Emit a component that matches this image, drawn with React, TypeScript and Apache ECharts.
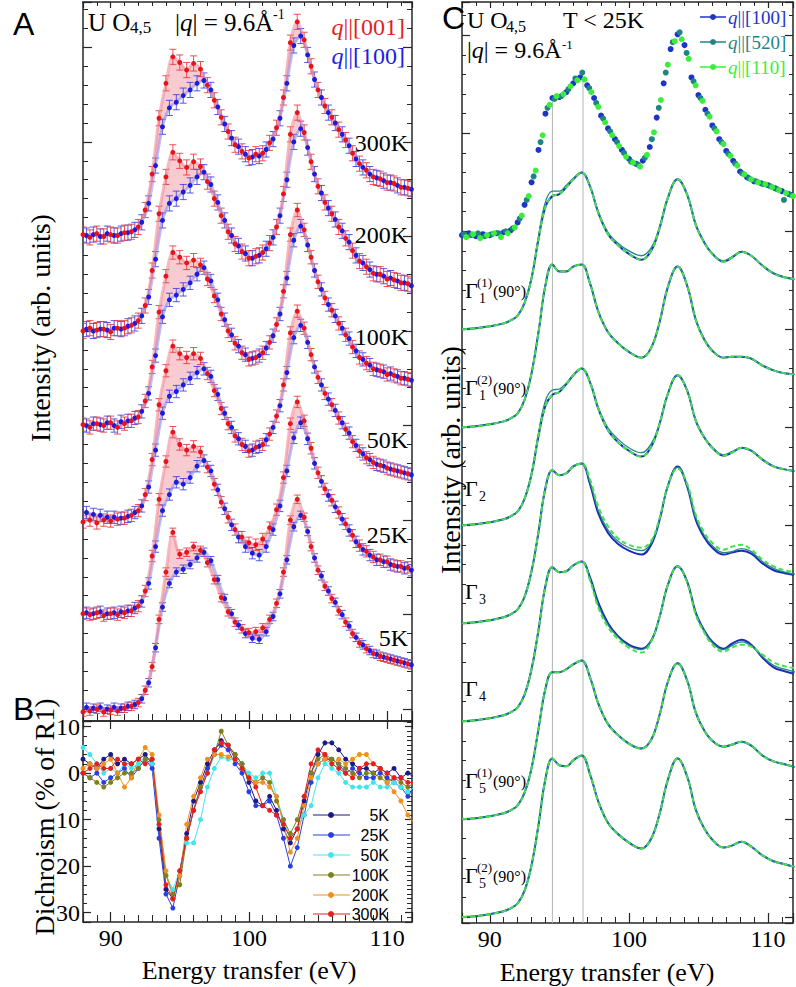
import React, { useEffect, useRef } from "react";
import * as echarts from "echarts";

const SERIF = '"Liberation Serif", "Times New Roman", serif';
const SANS = '"Liberation Sans", Arial, sans-serif';
const AX = "#262626";

// ---------------- Panel A : stacked spectra ----------------
const TEMPS_A = ["300K", "200K", "100K", "50K", "25K", "5K"];
const OFFSET_A = [5, 4, 3, 2, 1, 0];
const ERR_A = [0.08, 0.08, 0.07, 0.065, 0.06, 0.045];
const LABEL_Y_A = [143, 235, 337, 440, 535, 638];
const E_STEP = 0.5;
const E_RED_START = 88; // red points: 88.0, 88.5 ... 112.0 (49)
const E_BLUE_START = 88.25; // blue points: 88.25 ... 111.75 (48)

const red300 = [0.02, -0.01, 0.03, 0.0, 0.02, 0.01, 0.04, 0.05, 0.1, 0.28, 0.66, 1.25, 1.62, 1.9, 1.84, 1.76, 1.83, 1.77, 1.6, 1.44, 1.26, 1.11, 0.97, 0.9, 0.83, 0.87, 0.88, 0.99, 1.15, 1.47, 2.05, 2.27, 2.08, 1.8, 1.55, 1.38, 1.26, 1.13, 1.02, 0.88, 0.77, 0.7, 0.63, 0.61, 0.57, 0.56, 0.52, 0.51, 0.49];
const blue300 = [0.01, 0.02, 0.0, 0.03, 0.01, 0.03, 0.04, 0.07, 0.15, 0.35, 0.75, 1.16, 1.36, 1.42, 1.49, 1.55, 1.62, 1.65, 1.55, 1.37, 1.19, 1.04, 0.95, 0.87, 0.84, 0.85, 0.92, 1.03, 1.25, 1.62, 2.02, 2.12, 1.92, 1.66, 1.47, 1.31, 1.2, 1.08, 0.96, 0.82, 0.73, 0.66, 0.62, 0.59, 0.57, 0.54, 0.52, 0.5];
const red200 = [0.0, 0.03, 0.01, 0.02, -0.01, 0.03, 0.03, 0.06, 0.11, 0.27, 0.64, 1.24, 1.63, 1.89, 1.8, 1.73, 1.79, 1.74, 1.58, 1.4, 1.22, 1.05, 0.92, 0.84, 0.77, 0.79, 0.83, 0.93, 1.1, 1.45, 2.08, 2.31, 2.1, 1.79, 1.53, 1.36, 1.24, 1.1, 0.98, 0.85, 0.74, 0.68, 0.61, 0.6, 0.55, 0.54, 0.51, 0.5, 0.47];
const blue200 = [0.02, 0.0, 0.02, 0.01, 0.03, 0.02, 0.05, 0.08, 0.16, 0.36, 0.76, 1.17, 1.35, 1.4, 1.47, 1.54, 1.63, 1.68, 1.55, 1.36, 1.17, 1.01, 0.9, 0.82, 0.77, 0.8, 0.87, 0.99, 1.22, 1.6, 2.0, 2.14, 1.94, 1.66, 1.46, 1.3, 1.18, 1.06, 0.94, 0.8, 0.72, 0.65, 0.6, 0.58, 0.56, 0.53, 0.51, 0.48];
const red100 = [0.01, -0.02, 0.02, 0.0, 0.03, -0.02, 0.02, 0.05, 0.09, 0.26, 0.62, 1.2, 1.58, 1.83, 1.78, 1.72, 1.75, 1.7, 1.55, 1.37, 1.18, 1.0, 0.87, 0.77, 0.7, 0.72, 0.77, 0.88, 1.07, 1.42, 2.02, 2.28, 2.07, 1.78, 1.52, 1.35, 1.22, 1.08, 0.96, 0.83, 0.72, 0.66, 0.6, 0.58, 0.54, 0.53, 0.5, 0.49, 0.47];
const blue100 = [0.0, 0.02, 0.01, 0.03, 0.0, 0.04, 0.05, 0.08, 0.15, 0.34, 0.74, 1.15, 1.33, 1.38, 1.44, 1.51, 1.6, 1.67, 1.53, 1.33, 1.12, 0.96, 0.84, 0.75, 0.71, 0.74, 0.82, 0.95, 1.18, 1.56, 1.96, 2.11, 1.91, 1.64, 1.44, 1.28, 1.16, 1.03, 0.92, 0.79, 0.7, 0.64, 0.59, 0.57, 0.55, 0.52, 0.5, 0.48];
const red50 = [-0.02, 0.0, -0.03, 0.0, -0.01, 0.01, 0.02, 0.05, 0.1, 0.27, 0.64, 1.22, 1.58, 1.84, 1.76, 1.72, 1.76, 1.71, 1.55, 1.37, 1.18, 1.02, 0.89, 0.8, 0.73, 0.77, 0.8, 0.91, 1.1, 1.43, 1.98, 2.21, 2.03, 1.75, 1.51, 1.34, 1.22, 1.08, 0.96, 0.83, 0.73, 0.66, 0.61, 0.58, 0.55, 0.53, 0.51, 0.49, 0.47];
const blue50 = [0.08, 0.06, 0.05, 0.03, 0.03, 0.02, 0.04, 0.08, 0.15, 0.35, 0.74, 1.13, 1.31, 1.36, 1.43, 1.5, 1.56, 1.6, 1.52, 1.33, 1.13, 0.98, 0.86, 0.78, 0.74, 0.78, 0.85, 0.98, 1.21, 1.56, 1.93, 2.06, 1.88, 1.62, 1.43, 1.28, 1.16, 1.03, 0.92, 0.79, 0.7, 0.64, 0.59, 0.57, 0.54, 0.52, 0.5, 0.48];
const red25 = [0.01, 0.0, 0.02, -0.01, 0.01, 0.0, 0.02, 0.04, 0.09, 0.25, 0.62, 1.22, 1.62, 1.93, 1.8, 1.74, 1.78, 1.72, 1.56, 1.38, 1.19, 1.03, 0.9, 0.82, 0.76, 0.74, 0.8, 0.92, 1.11, 1.45, 2.02, 2.25, 2.05, 1.76, 1.5, 1.33, 1.21, 1.08, 0.96, 0.84, 0.73, 0.67, 0.61, 0.58, 0.56, 0.52, 0.51, 0.5, 0.48];
const blue25 = [0.02, 0.01, 0.03, 0.01, 0.02, 0.03, 0.04, 0.07, 0.14, 0.33, 0.72, 1.1, 1.27, 1.4, 1.38, 1.45, 1.57, 1.63, 1.52, 1.32, 1.12, 0.95, 0.82, 0.72, 0.65, 0.63, 0.72, 0.9, 1.15, 1.52, 1.87, 2.03, 1.86, 1.6, 1.41, 1.26, 1.14, 1.01, 0.89, 0.77, 0.69, 0.63, 0.58, 0.56, 0.53, 0.51, 0.49, 0.47];
const red5 = [-0.03, -0.02, 0.0, -0.03, -0.01, -0.02, 0.01, 0.03, 0.07, 0.2, 0.45, 0.95, 1.45, 1.87, 1.64, 1.66, 1.72, 1.68, 1.55, 1.37, 1.18, 1.03, 0.92, 0.85, 0.81, 0.82, 0.86, 0.95, 1.12, 1.45, 2.0, 2.22, 2.03, 1.72, 1.47, 1.3, 1.17, 1.04, 0.92, 0.8, 0.7, 0.64, 0.59, 0.56, 0.54, 0.52, 0.5, 0.48, 0.46];
const blue5 = [0.02, 0.01, 0.02, 0.0, 0.02, 0.01, 0.03, 0.05, 0.11, 0.28, 0.65, 1.08, 1.33, 1.45, 1.48, 1.53, 1.6, 1.66, 1.57, 1.37, 1.17, 1.01, 0.89, 0.8, 0.75, 0.74, 0.82, 0.98, 1.22, 1.58, 1.93, 2.05, 1.88, 1.6, 1.41, 1.25, 1.13, 1.0, 0.88, 0.76, 0.68, 0.62, 0.58, 0.55, 0.53, 0.51, 0.49, 0.47];
const RED_A = [red300, red200, red100, red50, red25, red5];
const BLUE_A = [blue300, blue200, blue100, blue50, blue25, blue5];

// ---------------- Panel B : dichroism (%) ----------------
const TEMPS_B = ["5K", "25K", "50K", "100K", "200K", "300K"];
const COLORS_B = ["#1b1a86", "#2a3fe0", "#44e4ec", "#7f7f1e", "#f0901e", "#e81e1e"];
const d5 = [3, 2, 1, 3, 4, 2, 3, 2, 3, 4, 2, -12, -25, -27, -21, -13, -6, -2, 2, 5, 7, 6, 4, 2, -2, -6, -7, -5, -8, -12, -15, -12, -6, 0, 4, 6.5, 6.5, 5, 3, 2, 1, 1, 0, 1, 0, 1, -1, 0, -1];
const d25 = [0, -1, 0, -2, -1, 0, 1, -1, 1, 3, 1, -14, -26, -29, -22, -14, -8, -3, 1, 4, 6, 5, 2, 0, -4, -7, -7, -6, -9, -14, -20, -16, -9, -2, 2, 3, 3, 2, 0, 1, 0, -1, -1, 0, -1, -2, -3, -5, -3];
const d50 = [5.5, 4, 2, 0, 1, 0, 2, 1, 2, 3, 2, -11, -22, -25, -21, -15, -15, -10, -3, 1, 3.5, 3, 3, 2, 0, -1, 0, 0, -5, -10, -14, -12, -9, -7, -1, 2, 1, 0, -2, -3, -3, -3, -2, -3, -3, -2, -3, -4, -3];
const d100 = [0, -1, -2, -3, -2, -1, 0, 0, 1, 3, 3, -10, -22, -26, -24, -14, -8, -3, 0, 4, 9, 6, 4, 2, -1, -2, -1, -2, -6, -10, -13, -10, -5, 0, 3, 4, 3, 2, 1, 0, -1, 0, 0, -1, -2, -1, -2, -3, -2];
const d200 = [1, 2, 1, 2, 3, 0, -3, -1, 3, 5.5, 4, -9, -21, -27, -22, -11, -5, -1, 3, 4, 4, 3.5, 3, 1, -1, -2, -2, -3, -5, -11, -17, -14, -7, -1, 2, 3, 2, 3, 2, 3, 4, 4, 2, 1, -2, -4, -6, -9, -11];
const d300 = [0, 1, 2, 1, 1, 3, 2, 2, 3, 2, 3, -11, -24, -27, -21, -14, -8, -4, 0, 5, 6.5, 6, 3, 1, -1, -3, -7, -8, -9, -11, -14, -12, -5, 2, 5, 4, 2, 1, 0, -1, 1, 2, 2, 1, 0, -1, -1, -2, -2];
const DICHRO = [d5, d25, d50, d100, d200, d300];

// ---------------- Panel C : data + calculations ----------------
const C_DATA_OFFSET = 6.96;
const E_C100_START = 88.0; // 49 points
const E_C520_START = 88.15; // 48 points
const E_C110_START = 88.3; // 48 points
const dataC100 = [0.0, 0.02, -0.01, 0.01, 0.0, 0.02, 0.03, 0.05, 0.13, 0.31, 0.54, 0.87, 1.24, 1.4, 1.41, 1.46, 1.55, 1.61, 1.53, 1.4, 1.22, 1.09, 0.98, 0.87, 0.78, 0.73, 0.76, 0.9, 1.2, 1.55, 1.9, 2.05, 1.94, 1.61, 1.43, 1.28, 1.12, 0.98, 0.86, 0.76, 0.65, 0.59, 0.55, 0.53, 0.51, 0.48, 0.45, 0.42, 0.39];
const dataC520 = [0.01, 0.0, 0.02, -0.01, 0.01, 0.02, 0.04, 0.07, 0.17, 0.36, 0.6, 0.95, 1.3, 1.39, 1.42, 1.49, 1.6, 1.66, 1.5, 1.35, 1.19, 1.06, 0.95, 0.84, 0.75, 0.72, 0.79, 0.98, 1.3, 1.66, 1.97, 2.07, 1.86, 1.57, 1.4, 1.24, 1.09, 0.95, 0.83, 0.73, 0.63, 0.58, 0.55, 0.52, 0.5, 0.47, 0.36, 0.41];
const dataC110 = [-0.02, 0.01, -0.03, 0.0, 0.02, -0.02, 0.02, 0.08, 0.2, 0.4, 0.66, 1.02, 1.33, 1.42, 1.44, 1.52, 1.58, 1.59, 1.46, 1.31, 1.15, 1.02, 0.91, 0.8, 0.74, 0.7, 0.82, 1.05, 1.38, 1.74, 1.98, 2.0, 1.8, 1.53, 1.37, 1.21, 1.06, 0.93, 0.81, 0.71, 0.62, 0.57, 0.54, 0.52, 0.49, 0.46, 0.43, 0.4];

const E_MODEL = [88, 89, 90, 91, 91.5, 92, 92.5, 93, 93.5, 94, 94.5, 95, 95.5, 96, 96.6, 97.2, 97.8, 98.5, 99.2, 100, 100.9, 101.6, 102.2, 102.8, 103.5, 104.2, 104.8, 105.4, 106, 106.8, 107.4, 108.1, 108.8, 109.6, 110.4, 111.2, 112];
const g11 = [0, 0.01, 0.03, 0.06, 0.09, 0.14, 0.27, 0.52, 0.92, 1.25, 1.36, 1.38, 1.45, 1.53, 1.6, 1.46, 1.19, 0.97, 0.86, 0.77, 0.71, 0.8, 1.03, 1.34, 1.53, 1.37, 1.07, 0.89, 0.77, 0.69, 0.73, 0.79, 0.75, 0.65, 0.57, 0.53, 0.51];
const g11Teal = [0, 0.01, 0.03, 0.06, 0.09, 0.14, 0.27, 0.53, 0.95, 1.3, 1.41, 1.41, 1.47, 1.54, 1.6, 1.46, 1.2, 0.99, 0.88, 0.8, 0.75, 0.83, 1.04, 1.34, 1.53, 1.37, 1.07, 0.89, 0.77, 0.7, 0.74, 0.79, 0.75, 0.65, 0.57, 0.53, 0.51];
const g12 = [0, 0.01, 0.03, 0.06, 0.09, 0.14, 0.28, 0.55, 0.97, 1.45, 1.66, 1.59, 1.59, 1.64, 1.66, 1.47, 1.18, 0.97, 0.86, 0.77, 0.71, 0.81, 1.07, 1.43, 1.64, 1.44, 1.1, 0.9, 0.78, 0.71, 0.72, 0.72, 0.7, 0.63, 0.58, 0.55, 0.54];
const g2 = [0, 0.01, 0.03, 0.06, 0.09, 0.14, 0.27, 0.52, 0.91, 1.22, 1.33, 1.36, 1.44, 1.53, 1.6, 1.46, 1.19, 0.97, 0.85, 0.76, 0.7, 0.8, 1.03, 1.34, 1.53, 1.37, 1.07, 0.9, 0.79, 0.71, 0.74, 0.79, 0.76, 0.67, 0.6, 0.57, 0.55];
const g2Teal = [0, 0.01, 0.03, 0.06, 0.09, 0.14, 0.27, 0.53, 0.94, 1.27, 1.38, 1.39, 1.45, 1.53, 1.6, 1.46, 1.2, 0.99, 0.88, 0.79, 0.74, 0.83, 1.04, 1.34, 1.53, 1.37, 1.07, 0.9, 0.79, 0.72, 0.75, 0.79, 0.76, 0.67, 0.6, 0.57, 0.55];
const g3Blue = [0, 0.01, 0.03, 0.06, 0.09, 0.14, 0.27, 0.53, 0.93, 1.38, 1.56, 1.51, 1.53, 1.6, 1.63, 1.42, 1.12, 0.92, 0.81, 0.74, 0.7, 0.8, 1.05, 1.4, 1.6, 1.39, 1.06, 0.88, 0.77, 0.7, 0.72, 0.74, 0.71, 0.61, 0.54, 0.51, 0.49];
const g3Teal = [0, 0.01, 0.03, 0.06, 0.09, 0.14, 0.27, 0.53, 0.93, 1.38, 1.56, 1.51, 1.53, 1.6, 1.63, 1.44, 1.15, 0.95, 0.84, 0.77, 0.74, 0.82, 1.06, 1.4, 1.59, 1.4, 1.08, 0.9, 0.79, 0.72, 0.73, 0.76, 0.73, 0.63, 0.56, 0.52, 0.5];
const g3Green = [0, 0.01, 0.03, 0.06, 0.09, 0.14, 0.27, 0.53, 0.93, 1.38, 1.56, 1.51, 1.53, 1.6, 1.63, 1.47, 1.19, 0.99, 0.87, 0.8, 0.77, 0.84, 1.07, 1.4, 1.58, 1.42, 1.11, 0.93, 0.82, 0.75, 0.78, 0.8, 0.75, 0.65, 0.58, 0.54, 0.52];
const g4Blue = [0, 0.01, 0.03, 0.06, 0.09, 0.14, 0.27, 0.53, 0.93, 1.38, 1.57, 1.52, 1.53, 1.59, 1.63, 1.47, 1.21, 1.0, 0.87, 0.78, 0.74, 0.82, 1.06, 1.39, 1.58, 1.42, 1.11, 0.93, 0.81, 0.74, 0.79, 0.83, 0.78, 0.65, 0.55, 0.51, 0.48];
const g4Teal = [0, 0.01, 0.03, 0.06, 0.09, 0.14, 0.27, 0.53, 0.93, 1.38, 1.57, 1.52, 1.53, 1.59, 1.63, 1.45, 1.18, 0.98, 0.86, 0.77, 0.73, 0.82, 1.06, 1.39, 1.58, 1.41, 1.1, 0.92, 0.8, 0.73, 0.77, 0.81, 0.77, 0.66, 0.57, 0.53, 0.5];
const g4Green = [0, 0.01, 0.03, 0.06, 0.09, 0.14, 0.27, 0.53, 0.93, 1.38, 1.57, 1.52, 1.53, 1.59, 1.63, 1.44, 1.16, 0.96, 0.84, 0.75, 0.7, 0.81, 1.06, 1.39, 1.58, 1.41, 1.09, 0.91, 0.78, 0.71, 0.75, 0.78, 0.76, 0.68, 0.6, 0.56, 0.54];
const g51 = [0, 0.01, 0.03, 0.06, 0.09, 0.14, 0.27, 0.52, 0.92, 1.33, 1.5, 1.5, 1.53, 1.58, 1.62, 1.45, 1.18, 0.97, 0.86, 0.77, 0.72, 0.81, 1.06, 1.4, 1.59, 1.41, 1.09, 0.91, 0.8, 0.74, 0.76, 0.79, 0.75, 0.65, 0.59, 0.56, 0.53];
const g52 = [0, 0.01, 0.03, 0.06, 0.09, 0.14, 0.27, 0.53, 0.94, 1.41, 1.62, 1.55, 1.54, 1.6, 1.65, 1.46, 1.18, 0.96, 0.85, 0.76, 0.7, 0.8, 1.05, 1.4, 1.62, 1.43, 1.1, 0.91, 0.79, 0.71, 0.73, 0.77, 0.72, 0.63, 0.57, 0.54, 0.51];
const MODEL_OFFSETS = [6, 5, 4, 3, 2, 1, 0];
const MODEL_BLUE = [g11, g12, g2, g3Blue, g4Blue, g51, g52];
const MODEL_TEAL = [g11Teal, g12, g2Teal, g3Teal, g4Teal, g51, g52];
const MODEL_GREEN = [g11, g12, g2, g3Green, g4Green, g51, g52];
const GUIDE_E = [94.5, 96.7];
const GUIDE_TOP = [1.4, 1.61];

// ---------------- helpers ----------------
const gridE = (start: number, n: number) =>
  Array.from({ length: n }, (_, i) => Math.round((start + i * E_STEP) * 1000) / 1000);

const tenFmt = (abs: boolean) => (v: number) =>
  Math.abs(v % 10) < 1e-6 ? String(abs ? Math.abs(v) : v) : "";

function xAx(gridIndex: number, position: string, labels: boolean, major: number, minor: number | null) {
  return {
    type: "value",
    gridIndex,
    position,
    min: 88,
    max: 111.8,
    splitNumber: 3,
    axisLine: { show: true, onZero: false, lineStyle: { color: AX, width: 1.5 } },
    axisTick: { show: major > 0, inside: true, length: major, lineStyle: { color: AX, width: 1.2 } },
    minorTick: { show: minor != null, splitNumber: 10, length: minor || 0, lineStyle: { color: AX, width: 1 } },
    splitLine: { show: false },
    minorSplitLine: { show: false },
    axisLabel: {
      show: labels,
      margin: 4,
      fontSize: 24,
      fontFamily: SERIF,
      color: "#000",
      formatter: tenFmt(false),
    },
  };
}

function yAx(
  gridIndex: number,
  position: string,
  min: number,
  max: number,
  splitNumber: number,
  labels: boolean,
  major: number,
  minor: number,
  minorSplit: number
) {
  return {
    type: "value",
    gridIndex,
    position,
    min,
    max,
    splitNumber,
    axisLine: { show: true, onZero: false, lineStyle: { color: AX, width: 1.5 } },
    axisTick: { show: true, inside: true, length: major, lineStyle: { color: AX, width: 1.2 } },
    minorTick: { show: true, splitNumber: minorSplit, length: minor, lineStyle: { color: AX, width: 1 } },
    splitLine: { show: false },
    minorSplitLine: { show: false },
    axisLabel: {
      show: labels,
      margin: 3,
      fontSize: 24,
      fontFamily: SERIF,
      color: "#000",
      formatter: tenFmt(true),
    },
  };
}

function errSeries(xs: number[], ys: number[], off: number, err: number, color: string) {
  return {
    type: "custom",
    xAxisIndex: 0,
    yAxisIndex: 0,
    z: 2,
    silent: true,
    clip: true,
    encode: { x: 0, y: 1 },
    data: ys.map((v, i) => [xs[i], v + off, err]),
    renderItem: (_p: any, api: any) => {
      const x = api.value(0);
      const y = api.value(1);
      const e = api.value(2);
      const a = api.coord([x, y + e]);
      const b = api.coord([x, y - e]);
      const w = 3.5;
      const st = { stroke: color, lineWidth: 1 };
      return {
        type: "group",
        children: [
          { type: "line", shape: { x1: a[0], y1: a[1], x2: b[0], y2: b[1] }, style: st },
          { type: "line", shape: { x1: a[0] - w, y1: a[1], x2: a[0] + w, y2: a[1] }, style: st },
          { type: "line", shape: { x1: b[0] - w, y1: b[1], x2: b[0] + w, y2: b[1] }, style: st },
        ],
      };
    },
  };
}

function fillSeries(xr: number[], red: number[], xb: number[], blue: number[], off: number) {
  return {
    type: "custom",
    xAxisIndex: 0,
    yAxisIndex: 0,
    z: 1,
    silent: true,
    clip: true,
    data: [[88, off]],
    renderItem: (_p: any, api: any) => {
      const pts: number[][] = [];
      red.forEach((v, i) => pts.push(api.coord([xr[i], v + off])));
      for (let i = blue.length - 1; i >= 0; i--) pts.push(api.coord([xb[i], blue[i] + off]));
      return { type: "polygon", shape: { points: pts }, style: { fill: "rgba(244,168,176,0.6)" } };
    },
  };
}

function buildOption() {
  const ER = gridE(E_RED_START, 49);
  const EB = gridE(E_BLUE_START, 48);
  const series: any[] = [];

  // Panel A
  TEMPS_A.forEach((t, k) => {
    const off = OFFSET_A[k];
    const red = RED_A[k];
    const blue = BLUE_A[k];
    series.push(fillSeries(ER, red, EB, blue, off));
    series.push(errSeries(EB, blue, off, ERR_A[k], "rgba(60,60,230,0.85)"));
    series.push(errSeries(ER, red, off, ERR_A[k], "rgba(232,50,56,0.85)"));
    series.push({
      type: "line",
      name: "blue" + t,
      xAxisIndex: 0,
      yAxisIndex: 0,
      z: 3,
      smooth: 0.3,
      symbol: "circle",
      symbolSize: 5,
      showSymbol: true,
      silent: true,
      data: blue.map((v, i) => [EB[i], v + off]),
      itemStyle: { color: "#1c1cdc" },
      lineStyle: { color: "rgba(140,140,235,0.55)", width: 3 },
    });
    series.push({
      type: "line",
      name: "red" + t,
      xAxisIndex: 0,
      yAxisIndex: 0,
      z: 3,
      smooth: 0.3,
      symbol: "circle",
      symbolSize: 5,
      showSymbol: true,
      silent: true,
      data: red.map((v, i) => [ER[i], v + off]),
      itemStyle: { color: "#e8141c" },
      lineStyle: { color: "rgba(240,130,140,0.55)", width: 3 },
    });
  });

  // Panel B
  TEMPS_B.forEach((t, k) => {
    series.push({
      type: "line",
      name: t,
      xAxisIndex: 2,
      yAxisIndex: 2,
      z: 3,
      symbol: "circle",
      symbolSize: 5,
      showSymbol: true,
      silent: true,
      data: DICHRO[k].map((v, i) => [ER[i], v]),
      itemStyle: { color: COLORS_B[k] },
      lineStyle: { color: COLORS_B[k], width: 1 },
    });
  });

  // Panel C guides
  GUIDE_E.forEach((e, k) => {
    series.push({
      type: "line",
      xAxisIndex: 4,
      yAxisIndex: 4,
      z: 1,
      silent: true,
      symbol: "none",
      data: [
        [e, C_DATA_OFFSET + GUIDE_TOP[k]],
        [e, -0.06],
      ],
      lineStyle: { color: "#b4b4b4", width: 1 },
    });
  });

  // Panel C models
  MODEL_OFFSETS.forEach((off, k) => {
    const mk = (vals: number[], color: string, width: number, type: any, z: number) => ({
      type: "line",
      xAxisIndex: 4,
      yAxisIndex: 4,
      z,
      silent: true,
      symbol: "none",
      smooth: 0.4,
      data: vals.map((v, i) => [E_MODEL[i], v + off]),
      lineStyle: { color, width, type },
    });
    series.push(mk(MODEL_BLUE[k], "#1a2cb8", 2, "solid", 2));
    series.push(mk(MODEL_TEAL[k], "#23868a", 1.3, "solid", 3));
    series.push(mk(MODEL_GREEN[k], "#45e04c", 2, [5, 3], 4));
  });

  // Panel C data
  const cData = [
    { vals: dataC100, start: E_C100_START, color: "#1c34c8" },
    { vals: dataC520, start: E_C520_START, color: "#1f8484" },
    { vals: dataC110, start: E_C110_START, color: "#3cee3c" },
  ];
  cData.forEach((d, k) => {
    const xs = gridE(d.start, d.vals.length);
    series.push({
      type: "scatter",
      xAxisIndex: 4,
      yAxisIndex: 4,
      z: 5 + k,
      silent: true,
      symbolSize: 6,
      data: d.vals.map((v, i) => [xs[i], v + C_DATA_OFFSET]),
      itemStyle: { color: d.color, opacity: 1 },
    });
  });

  // -------- graphic texts --------
  const g: any[] = [];
  const txt = (x: number, y: number, text: string, font: string, fill = "#000", align = "left", extra: any = {}) => {
    g.push({
      type: "text",
      x,
      y,
      z: 100,
      silent: true,
      ...extra,
      style: {
        text,
        font,
        fill,
        align,
        verticalAlign: "middle",
        textAlign: align,
        textVerticalAlign: "middle",
        ...(extra.style || {}),
      },
    });
  };
  const richQ = (size: number) => ({
    style: {
      rich: {
        i: { font: `italic ${size}px ${SERIF}` },
        n: { font: `${size}px ${SERIF}` },
      },
    },
  });

  // panel letters
  txt(13, 24, "A", `32px ${SANS}`);
  txt(13, 709, "B", `32px ${SANS}`);
  txt(442, 18, "C", `32px ${SANS}`);

  // A header
  txt(88, 22, "U O", `25px ${SERIF}`);
  txt(130, 27, "4,5", `17px ${SERIF}`);
  txt(175, 22, "{n||}{i|q}{n|| = 9.6Å}", `25px ${SERIF}`, "#000", "left", richQ(25));
  txt(273, 14, "-1", `14px ${SERIF}`);
  txt(405, 27, "{i|q}{n|||[001]}", `24px ${SERIF}`, "#e41e20", "right", richQ(24));
  txt(405, 56, "{i|q}{n|||[100]}", `24px ${SERIF}`, "#1e1ee0", "right", richQ(24));
  TEMPS_A.forEach((t, k) => txt(408, LABEL_Y_A[k], t, `24px ${SERIF}`, "#000", "right"));

  // axis titles
  txt(40, 328, "Intensity (arb. units)", `28px ${SERIF}`, "#000", "center", { rotation: Math.PI / 2 });
  txt(44, 817, "Dichroism (% of R1)", `28px ${SERIF}`, "#000", "center", { rotation: Math.PI / 2 });
  txt(450, 460, "Intensity (arb. units)", `28px ${SERIF}`, "#000", "center", { rotation: Math.PI / 2 });
  txt(249, 970, "Energy transfer (eV)", `26px ${SERIF}`, "#000", "center");
  txt(607, 972, "Energy transfer (eV)", `26px ${SERIF}`, "#000", "center");

  // B legend
  const legY = [815, 835, 855, 875, 895, 914];
  TEMPS_B.forEach((t, k) => {
    g.push({
      type: "line",
      z: 100,
      silent: true,
      shape: { x1: 313, y1: legY[k], x2: 350, y2: legY[k] },
      style: { stroke: COLORS_B[k], lineWidth: 1.2 },
    });
    g.push({
      type: "circle",
      z: 100,
      silent: true,
      shape: { cx: 331, cy: legY[k], r: 3 },
      style: { fill: COLORS_B[k] },
    });
    txt(389, legY[k], t, `16px ${SANS}`, "#000", "right");
  });

  // C header
  txt(467, 20, "U O", `24px ${SERIF}`);
  txt(506, 26, "4,5", `16px ${SERIF}`);
  txt(563, 20, "T < 25K", `24px ${SERIF}`);
  txt(467, 50, "{n||}{i|q}{n|| = 9.6Å}", `24px ${SERIF}`, "#000", "left", richQ(24));
  txt(562, 44, "-1", `13px ${SERIF}`);

  // C legend
  const cLeg = [
    { y: 17, label: "[100]", color: "#1c34c8" },
    { y: 42, label: "[520]", color: "#1f8484" },
    { y: 67, label: "[110]", color: "#3cee3c" },
  ];
  cLeg.forEach((l) => {
    g.push({
      type: "line",
      z: 100,
      silent: true,
      shape: { x1: 700, y1: l.y, x2: 726, y2: l.y },
      style: { stroke: l.color, lineWidth: 1.5 },
    });
    g.push({ type: "circle", z: 100, silent: true, shape: { cx: 713, cy: l.y, r: 3 }, style: { fill: l.color } });
    txt(728, l.y, `{i|q}{n|||${l.label}}`, `19px ${SERIF}`, l.color, "left", richQ(19));
  });

  // Gamma labels
  const GL = [
    { y: 290, sub: "1", sup: "(1)", tail: "(90°)" },
    { y: 387, sub: "1", sup: "(2)", tail: "(90°)" },
    { y: 488, sub: "2", sup: "", tail: "" },
    { y: 591, sub: "3", sup: "", tail: "" },
    { y: 688, sub: "4", sup: "", tail: "" },
    { y: 780, sub: "5", sup: "(1)", tail: "(90°)" },
    { y: 875, sub: "5", sup: "(2)", tail: "(90°)" },
  ];
  GL.forEach((l) => {
    txt(465, l.y, "Γ", `22px ${SERIF}`);
    txt(479, l.y + 8, l.sub, `14px ${SERIF}`);
    if (l.sup) txt(477, l.y - 8, l.sup, `13px ${SERIF}`);
    if (l.tail) txt(493, l.y + 1, l.tail, `16px ${SERIF}`);
  });

  return {
    animation: false,
    backgroundColor: "#ffffff",
    grid: [
      { left: 83, top: 2, width: 329, height: 719 },
      { left: 83, top: 721, width: 329, height: 201 },
      { left: 462, top: 2, width: 331, height: 921 },
    ],
    xAxis: [
      xAx(0, "bottom", false, 10, 7),
      xAx(0, "top", false, 6, 4),
      xAx(1, "bottom", true, 10, 7),
      xAx(1, "top", false, 8, null),
      xAx(2, "bottom", true, 10, 6),
      xAx(2, "top", false, 6, 4),
    ],
    yAxis: [
      yAx(0, "left", -0.125, 7.48, 7, false, 9, 5, 5),
      yAx(0, "right", -0.125, 7.48, 7, false, 9, 5, 5),
      yAx(1, "left", -32, 11.2, 4, true, 8, 4, 5),
      yAx(1, "right", -32, 11.2, 4, false, 7, 5, 10),
      yAx(2, "left", -0.06, 9.34, 9, false, 8, 4, 5),
      yAx(2, "right", -0.06, 9.34, 9, false, 8, 4, 5),
    ],
    series,
    graphic: g,
  };
}

export default function App() {
  const ref = useRef<HTMLDivElement>(null);
  useEffect(() => {
    if (!ref.current) return;
    const chart = echarts.init(ref.current, null, { renderer: "svg" });
    chart.setOption(buildOption() as any);
    return () => chart.dispose();
  }, []);
  return (
    <div
      ref={ref}
      style={{ position: "absolute", left: 0, top: 0, width: 796, height: 987, background: "#fff" }}
    />
  );
}
